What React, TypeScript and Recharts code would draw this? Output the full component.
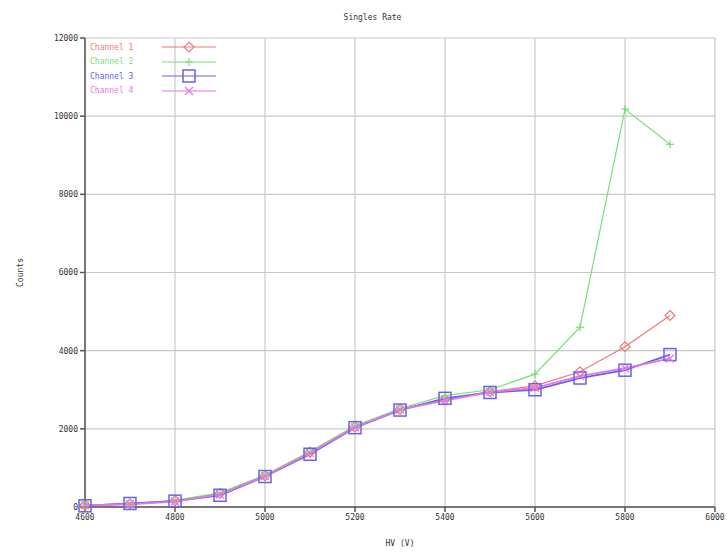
import React from 'react';
import { LineChart, Line, XAxis, YAxis, CartesianGrid } from 'recharts';

const hv = [4600, 4700, 4800, 4900, 5000, 5100, 5200, 5300, 5400, 5500, 5600, 5700, 5800, 5900];
const channel1 = [50, 80, 160, 350, 800, 1400, 2050, 2500, 2750, 2950, 3100, 3460, 4100, 4900];
const channel2 = [50, 90, 170, 360, 820, 1420, 2080, 2520, 2850, 3000, 3400, 4600, 10180, 9280];
const channel3 = [30, 90, 150, 300, 780, 1350, 2030, 2480, 2780, 2930, 3000, 3300, 3500, 3900];
const channel4 = [40, 70, 140, 320, 790, 1380, 2040, 2490, 2720, 2940, 3050, 3350, 3550, 3800];
const xTicks = [4600, 4800, 5000, 5200, 5400, 5600, 5800, 6000];
const yTicks = [0, 2000, 4000, 6000, 8000, 10000, 12000];
const seriesNames = ['Channel 1', 'Channel 2', 'Channel 3', 'Channel 4'];
const colors = ['#f07878', '#78e078', '#6464e6', '#e278e6'];

const data = hv.map((x, i) => ({ hv: x, c1: channel1[i], c2: channel2[i], c3: channel3[i], c4: channel4[i] }));

const FONT = 'DejaVu Sans Mono, monospace';

const Marker = ({ kind, cx, cy, color }: any) => {
  if (cx == null || cy == null) return null;
  if (kind === 'diamond') {
    const r = 5;
    return <polygon points={`${cx},${cy - r} ${cx + r},${cy} ${cx},${cy + r} ${cx - r},${cy}`} fill="none" stroke={color} strokeWidth={1.2} />;
  }
  if (kind === 'plus') {
    const r = 4;
    return <g stroke={color} strokeWidth={1.2}><line x1={cx - r} y1={cy} x2={cx + r} y2={cy} /><line x1={cx} y1={cy - r} x2={cx} y2={cy + r} /></g>;
  }
  if (kind === 'square') {
    const r = 6;
    return <rect x={cx - r} y={cy - r} width={2 * r} height={2 * r} fill="none" stroke={color} strokeWidth={1.5} />;
  }
  const r = 4;
  return <g stroke={color} strokeWidth={1.2}><line x1={cx - r} y1={cy - r} x2={cx + r} y2={cy + r} /><line x1={cx - r} y1={cy + r} x2={cx + r} y2={cy - r} /></g>;
};

const kinds = ['diamond', 'plus', 'square', 'cross'];
const keys = ['c1', 'c2', 'c3', 'c4'];

const LegendBox = () => (
  <div style={{ position: 'absolute', left: 90, top: 40, fontFamily: FONT, fontSize: 8, zIndex: 2 }}>
    {seriesNames.map((n, i) => (
      <div key={n} style={{ display: 'flex', alignItems: 'center', height: 14.5 }}>
        <span style={{ color: colors[i], width: 70, whiteSpace: 'pre' }}>{n}</span>
        <svg width={58} height={14}>
          <line x1={2} y1={7} x2={56} y2={7} stroke={colors[i]} strokeWidth={1.2} />
          <Marker kind={kinds[i]} cx={29} cy={7} color={colors[i]} />
        </svg>
      </div>
    ))}
  </div>
);

export default function App() {
  return (
    <div style={{ position: 'absolute', left: 0, top: 0, width: 727, height: 555, background: '#fff' }}>
      <div style={{ position: 'absolute', top: 13, left: 0, width: 745, textAlign: 'center', fontFamily: FONT, fontSize: 8, color: '#333', zIndex: 2 }}>Singles Rate</div>
      <LegendBox />
      <LineChart width={727} height={555} data={data} margin={{ top: 38, right: 12, bottom: 0, left: 0 }}>
        <CartesianGrid stroke="#c8c8c8" strokeWidth={1.2} />
        <XAxis dataKey="hv" type="number" domain={[4600, 6000]} ticks={xTicks} height={48}
          stroke="#555" strokeWidth={1.5} tickSize={5}
          tick={{ fontFamily: FONT, fontSize: 8, fill: '#333' }}
          label={{ value: 'HV (V)', position: 'insideBottom', offset: 9, style: { fontFamily: FONT, fontSize: 8, fill: '#333' } }} />
        <XAxis xAxisId="top" dataKey="hv" type="number" domain={[4600, 6000]} ticks={xTicks} orientation="top" height={0}
          stroke="#555" strokeWidth={1.5} tick={false} mirror />
        <YAxis type="number" domain={[0, 12000]} ticks={yTicks} width={85}
          stroke="#555" strokeWidth={1.5} tickSize={5}
          tick={{ fontFamily: FONT, fontSize: 8, fill: '#333' }}
          label={{ value: 'Counts', angle: -90, position: 'insideLeft', offset: 20, style: { fontFamily: FONT, fontSize: 8, fill: '#333', textAnchor: 'middle' } }} />
        <YAxis yAxisId="right" type="number" domain={[0, 12000]} ticks={yTicks} orientation="right" width={0}
          stroke="#555" strokeWidth={1.5} tick={false} mirror />
        {keys.map((k, i) => (
          <Line key={k} dataKey={k} name={seriesNames[i]} stroke={colors[i]} strokeWidth={i === 2 || i === 3 ? 1.8 : 1.2}
            isAnimationActive={false}
            dot={(p: any) => <Marker key={`${k}-${p.index}`} kind={kinds[i]} cx={p.cx} cy={p.cy} color={colors[i]} />} />
        ))}
      </LineChart>
    </div>
  );
}
